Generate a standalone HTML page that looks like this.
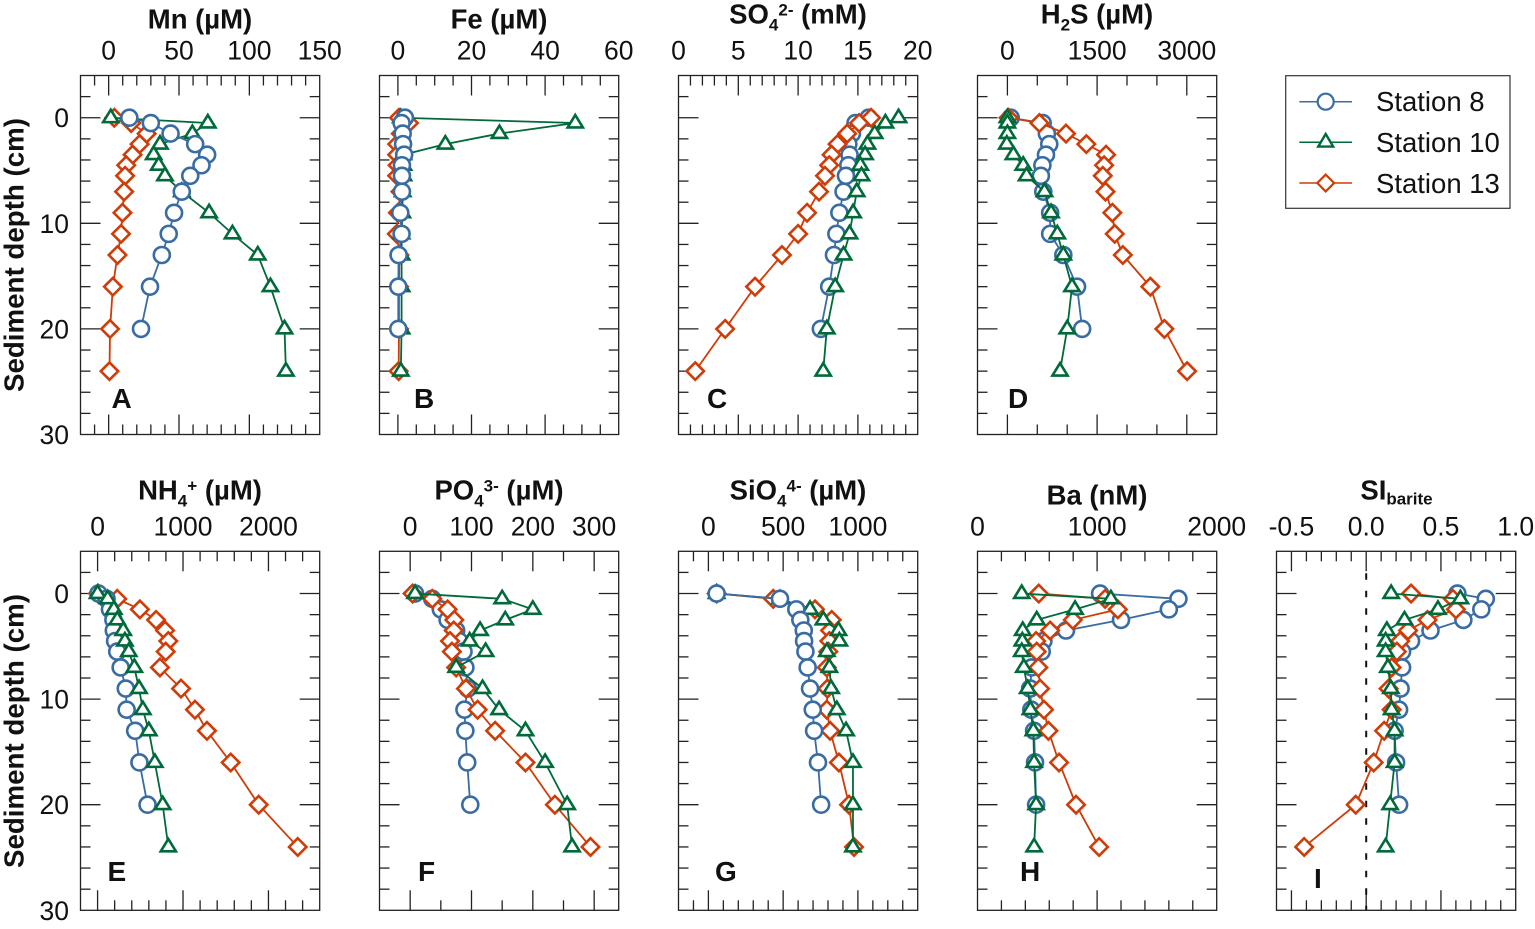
<!DOCTYPE html>
<html>
<head>
<meta charset="utf-8">
<title>Porewater profiles</title>
<style>
html,body{margin:0;padding:0;background:#fff;width:1535px;height:929px;overflow:hidden}
svg{display:block}
text{font-family:"Liberation Sans",Arial,sans-serif;fill:#111}
.tick{font-size:26.5px}
.title{font-size:27.5px;font-weight:bold;text-anchor:middle}
.letter{font-size:28px;font-weight:bold}
.ytitle{font-size:27.5px;font-weight:bold;text-anchor:middle}
.legend-text{font-size:27.5px}
</style>
</head>
<body>
<svg id="chart" xmlns="http://www.w3.org/2000/svg" width="1535" height="929" viewBox="0 0 1535 929">
  <rect x="0" y="0" width="1535" height="929" fill="#fff"/>

  <text class="title" x="200" y="28.5">Mn (µM)</text>
  <text class="title" x="499" y="28.5">Fe (µM)</text>
  <text class="title" x="798" y="23.5">SO<tspan font-size="17" dy="7">4</tspan><tspan font-size="17" dy="-15">2-</tspan><tspan dy="8"> (mM)</tspan></text>
  <text class="title" x="1097" y="23.5">H<tspan font-size="17" dy="7">2</tspan><tspan dy="-7">S (µM)</tspan></text>
  <text class="title" x="200" y="499.5">NH<tspan font-size="17" dy="7">4</tspan><tspan font-size="17" dy="-15">+</tspan><tspan dy="8"> (µM)</tspan></text>
  <text class="title" x="499" y="499.5">PO<tspan font-size="17" dy="7">4</tspan><tspan font-size="17" dy="-15">3-</tspan><tspan dy="8"> (µM)</tspan></text>
  <text class="title" x="798" y="499.5">SiO<tspan font-size="17" dy="7">4</tspan><tspan font-size="17" dy="-15">4-</tspan><tspan dy="8"> (µM)</tspan></text>
  <text class="title" x="1097" y="504.5">Ba (nM)</text>
  <text class="title" x="1396.5" y="499.5">SI<tspan font-size="17" dy="5">barite</tspan></text>

  <text class="ytitle" transform="translate(23.5,255) rotate(-90)" textLength="274" lengthAdjust="spacingAndGlyphs">Sediment depth (cm)</text>
  <text class="ytitle" transform="translate(23.5,731) rotate(-90)" textLength="274" lengthAdjust="spacingAndGlyphs">Sediment depth (cm)</text>

  <g id="panels"></g>

  <text class="letter" x="111.5" y="408">A</text>
  <text class="letter" x="414" y="408">B</text>
  <text class="letter" x="707" y="408">C</text>
  <text class="letter" x="1008" y="408">D</text>
  <text class="letter" x="107.5" y="881">E</text>
  <text class="letter" x="418" y="881">F</text>
  <text class="letter" x="715" y="881">G</text>
  <text class="letter" x="1020" y="881">H</text>
  <text class="letter" x="1314" y="888">I</text>

  <g>
    <rect x="1285.7" y="75.7" width="224.3" height="132.6" fill="#fff" stroke="#333" stroke-width="1.2"/>
    <g>
      <line x1="1299.3" x2="1352" y1="101.7" y2="101.7" stroke="#386ca3" stroke-width="1.5"/>
      <circle cx="1325.7" cy="101.7" r="8" fill="#fff" stroke="#386ca3" stroke-width="2.2"/>
      <text class="legend-text" x="1376" y="111">Station 8</text>
    </g>
    <g>
      <line x1="1299.3" x2="1352" y1="142.3" y2="142.3" stroke="#006a3a" stroke-width="1.5"/>
      <path d="M1325.7 134 L1333.2 146.6 L1318.2 146.6 Z" fill="#fff" stroke="#006a3a" stroke-width="2.4"/>
      <text class="legend-text" x="1376" y="152">Station 10</text>
    </g>
    <g>
      <line x1="1299.3" x2="1352" y1="183" y2="183" stroke="#cf3c07" stroke-width="1.5"/>
      <path d="M1325.7 174.6 L1334.1 183 L1325.7 191.4 L1317.3 183 Z" fill="#fff" stroke="#cf3c07" stroke-width="2.2"/>
      <text class="legend-text" x="1376" y="193">Station 13</text>
    </g>
  </g>
</svg>

<script>
// Sampling depths (cm)
const depths = [0, 0.5, 1.5, 2.5, 3.5, 4.5, 5.5, 7, 9, 11, 13, 16, 20, 24];
const yTickLabels = [0, 10, 20, 30];

// Mn (uM)
const mnStation8 = [14.7, 30, 44, 61.5, 70, 66, 58, 52, 46.5, 42.7, 37.8, 29.4, 23];
const mnStation10 = [1.5, 70.5, 59.5, 36.5, 32, 35.6, 40, 52, 71.4, 88, 106, 115, 125, 126];
const mnStation13 = [4, 16, 27, 22, 17, 12.5, 11.7, 11, 9.8, 8.8, 6.3, 3, 1, 0.6];
const mnTicks = [0, 50, 100, 150];

// Fe (uM)
const feStation8 = [1.9, 1, 1.3, 1.4, 1.7, 1.1, 1.1, 1.1, 0.65, 1, 0.2, 0.1, 0.1];
const feStation10 = [0.8, 48.2, 27.6, 12.9, 1.5, 1.5, 1.5, 1.3, 1.2, 1, 1, 1, 1, 0.8];
const feStation13 = [0.3, 3, 0.8, -0.2, -0.2, -0.1, -0.2, 0.7, 0, -0.3, 0.4, 0.3, 0.3, 0.2];
const feTicks = [0, 20, 40, 60];

// SO4 (mM)
const so4Station8 = [15.9, 14.8, 14.5, 14.2, 14.3, 14.2, 14, 13.8, 13.45, 13.2, 13, 12.6, 11.9];
const so4Station10 = [18.4, 17.3, 16.4, 15.8, 15.6, 15.2, 15.3, 14.9, 14.6, 14.3, 13.8, 13.1, 12.4, 12.1];
const so4Station13 = [16.1, 15.1, 14.1, 13.3, 12.8, 12.6, 12.25, 11.75, 10.75, 10, 8.65, 6.4, 3.9, 1.4];
const so4Ticks = [0, 5, 10, 15, 20];

// H2S (uM)
const h2sStation8 = [55, 590, 660, 700, 645, 585, 560, 600, 715, 715, 935, 1165, 1250];
const h2sStation10 = [0, 0, 0, -10, 100, 265, 320, 620, 730, 835, 935, 1080, 1000, 880];
const h2sStation13 = [20, 535, 980, 1320, 1650, 1617, 1595, 1640, 1755, 1795, 1930, 2390, 2625, 3005];
const h2sTicks = [0, 1500, 3000];

// NH4 (uM)
const nh4Station8 = [10, 105, 145, 185, 190, 205, 230, 270, 330, 340, 440, 490, 585];
const nh4Station10 = [0, 118, 190, 230, 300, 320, 365, 430, 485, 530, 600, 670, 762, 828];
const nh4Station13 = [5, 230, 495, 685, 790, 828, 797, 730, 977, 1140, 1280, 1558, 1886, 2343];
const nh4Ticks = [0, 1000, 2000];

// PO4 (uM)
const po4Station8 = [8, 36, 50, 61, 75, 80, 87, 90, 94, 88.5, 90, 93, 98];
const po4Station10 = [8, 150, 200, 155, 114, 97, 123, 75, 118, 145, 188, 220, 256, 264];
const po4Station13 = [4, 36, 61, 72, 71, 65, 68, 75, 91, 110, 138.5, 188, 236, 294];
const po4Ticks = [0, 100, 200, 300];

// SiO4 (uM)
const sio4Station8 = [55, 479, 588, 615, 638, 640, 649, 664, 680, 698, 707, 733, 754];
const sio4Station10 = [55, 479, 680, 769, 870, 876, 792, 809, 821, 859, 921, 967, 967, 967];
const sio4Station13 = [55, 434, 713, 825, 814, 809, 802, 792, 796, 792, 814, 873, 941, 974];
const sio4Ticks = [0, 500, 1000];

// Ba (nM)
const baStation8 = [1025, 1680, 1600, 1200, 740, 551, 537, 453, 440, 450, 473, 481, 490];
const baStation10 = [370, 1115, 816, 495, 378, 375, 370, 387, 420, 442, 467, 473, 490, 473];
const baStation13 = [512, 1067, 1173, 797, 607, 490, 495, 509, 523, 556, 593, 682, 824, 1017];
const baTicks = [0, 1000, 2000];

// SI barite
const siStation8 = [0.61, 0.80, 0.77, 0.65, 0.43, 0.30, 0.24, 0.24, 0.23, 0.22, 0.19, 0.20, 0.22];
const siStation10 = [0.167, 0.63, 0.48, 0.256, 0.138, 0.13, 0.13, 0.145, 0.165, 0.17, 0.19, 0.19, 0.16, 0.13];
const siStation13 = [0.30, 0.58, 0.60, 0.41, 0.28, 0.227, 0.205, 0.17, 0.15, 0.17, 0.12, 0.05, -0.07, -0.415];
const siTicks = ['-0.5', '0.0', '0.5', '1.0'];

const BLUE = '#386ca3', GREEN = '#006a3a', ORANGE = '#cf3c07';
const SVGNS = 'http://www.w3.org/2000/svg';
const DEPTH_MIN = -4, DEPTH_MAX = 30;
const PANEL_H = 359, PANEL_W = 239.2;

const panels = [
  {id:'mn',   left:80.5,   top:75.5,  xMin:-20,  xMax:150,  minor:10,  major:50,   labels:mnTicks,  s8:mnStation8,  s10:mnStation10,  s13:mnStation13,  order:['s13','s10','s8'], yLabels:true},
  {id:'fe',   left:379.5,  top:75.5,  xMin:-5,   xMax:60,   minor:5,   major:20,   labels:feTicks,  s8:feStation8,  s10:feStation10,  s13:feStation13,  order:['s13','s10','s8']},
  {id:'so4',  left:678.5,  top:75.5,  xMin:0,    xMax:20,   minor:1,   major:5,    labels:so4Ticks, s8:so4Station8, s10:so4Station10, s13:so4Station13, order:['s8','s10','s13']},
  {id:'h2s',  left:977.5,  top:75.5,  xMin:-500, xMax:3500, minor:500, major:1500, labels:h2sTicks, s8:h2sStation8, s10:h2sStation10, s13:h2sStation13, order:['s8','s13','s10']},
  {id:'nh4',  left:80.5,   top:551.3, xMin:-200, xMax:2600, minor:200, major:1000, labels:nh4Ticks, s8:nh4Station8, s10:nh4Station10, s13:nh4Station13, order:['s13','s8','s10'], yLabels:true},
  {id:'po4',  left:379.5,  top:551.3, xMin:-50,  xMax:340,  minor:50,  major:100,  labels:po4Ticks, s8:po4Station8, s10:po4Station10, s13:po4Station13, order:['s8','s13','s10']},
  {id:'sio4', left:678.5,  top:551.3, xMin:-200, xMax:1400, minor:100, major:500,  labels:sio4Ticks,s8:sio4Station8,s10:sio4Station10,s13:sio4Station13,order:['s13','s10','s8']},
  {id:'ba',   left:977.5,  top:551.3, xMin:0,    xMax:2000, minor:200, major:1000, labels:baTicks,  s8:baStation8,  s10:baStation10,  s13:baStation13,  order:['s8','s13','s10']},
  {id:'si',   left:1276.5, top:551.3, xMin:-0.6, xMax:1.0,  minor:0.1, major:0.5,  labels:siTicks,  s8:siStation8,  s10:siStation10,  s13:siStation13,  order:['s8','s13','s10'], zeroLine:true}
];

const seriesStyle = {
  s8:  {color:BLUE,   name:'station-8'},
  s10: {color:GREEN,  name:'station-10'},
  s13: {color:ORANGE, name:'station-13'}
};

function make(tag, parent){
  const el = document.createElementNS(SVGNS, tag);
  parent.appendChild(el);
  return el;
}

function drawTick(parent, x1, y1, x2, y2){
  const el = make('line', parent);
  
  
  el.setAttribute('x1', x1);
  el.setAttribute('y1', y1);
  el.setAttribute('x2', x2);
  el.setAttribute('y2', y2);
  el.setAttribute('stroke', '#222');
  el.setAttribute('stroke-width', '1.3');
}

function drawMarker(parent, key, cx, cy, color){
  let el;
  if (key === 's8') {
    el = make('circle', parent);
    el.setAttribute('cx', cx);
    el.setAttribute('cy', cy);
    el.setAttribute('r', '8');
  } else if (key === 's10') {
    el = make('path', parent);
    el.setAttribute('d', 'M' + cx + ' ' + (cy - 8) + ' L' + (cx + 7.6) + ' ' + (cy + 4.4) + ' L' + (cx - 7.6) + ' ' + (cy + 4.4) + ' Z');
  } else {
    el = make('path', parent);
    el.setAttribute('d', 'M' + cx + ' ' + (cy - 8.7) + ' L' + (cx + 8.7) + ' ' + cy + ' L' + cx + ' ' + (cy + 8.7) + ' L' + (cx - 8.7) + ' ' + cy + ' Z');
  }
  
  
  el.setAttribute('fill', '#fff');
  el.setAttribute('stroke', color);
  el.setAttribute('stroke-width', '2.6');
}

function isMultiple(v, step){
  const r = v / step;
  return Math.abs(r - Math.round(r)) < 1e-6;
}

const root = document.getElementById('panels');

panels.forEach(function(p){
  const xScale = function(v){ return p.left + (v - p.xMin) / (p.xMax - p.xMin) * PANEL_W; };
  const yScale = function(d){ return p.top + (d - DEPTH_MIN) / (DEPTH_MAX - DEPTH_MIN) * PANEL_H; };
  const bottom = p.top + PANEL_H, right = p.left + PANEL_W;

  const g = make('g', root);
  
  

  // x ticks (top and bottom)
  const nx = Math.round((p.xMax - p.xMin) / p.minor);
  for (let i = 1; i < nx; i++) {
    const v = p.xMin + i * p.minor;
    const major = isMultiple(v, p.major);
    const len = major ? 20 : 10;
    const x = xScale(v);
    drawTick(g, x, p.top, x, p.top + len);
    drawTick(g, x, bottom, x, bottom - len);
  }

  // y ticks (left and right)
  for (let d = DEPTH_MIN + 2; d < DEPTH_MAX; d += 2) {
    const len = (d % 10 === 0) ? 20 : 10;
    const y = yScale(d);
    drawTick(g, p.left, y, p.left + len, y);
    drawTick(g, right, y, right - len, y);
  }

  // x tick labels
  p.labels.forEach(function(lab){
    const t = make('text', g);
    
    
    t.setAttribute('class', 'tick');
    t.setAttribute('x', xScale(parseFloat(lab)));
    t.setAttribute('y', p.top - 16);
    t.setAttribute('text-anchor', 'middle');
    t.textContent = lab;
  });

  // y tick labels
  if (p.yLabels) {
    yTickLabels.forEach(function(lab){
      const t = make('text', g);
      
      
      t.setAttribute('class', 'tick');
      t.setAttribute('x', 69);
      t.setAttribute('y', yScale(lab) + 9.5);
      t.setAttribute('text-anchor', 'end');
      t.textContent = lab;
    });
  }

  // saturation line
  if (p.zeroLine) {
    const z = make('line', g);
    
    
    z.setAttribute('x1', xScale(0));
    z.setAttribute('x2', xScale(0));
    z.setAttribute('y1', p.top + 22);
    z.setAttribute('y2', bottom);
    z.setAttribute('stroke', '#111');
    z.setAttribute('stroke-width', '2');
    z.setAttribute('stroke-dasharray', '6.5 11');
  }

  // series
  p.order.forEach(function(key){
    const values = p[key];
    const style = seriesStyle[key];
    const sg = make('g', g);
    
    

    const line = make('polyline', sg);
    
    
    line.setAttribute('fill', 'none');
    line.setAttribute('stroke', style.color);
    line.setAttribute('stroke-width', '1.8');
    line.setAttribute('points', values.map(function(v, i){
      return xScale(v).toFixed(2) + ',' + yScale(depths[i]).toFixed(2);
    }).join(' '));

    values.forEach(function(v, i){
      drawMarker(sg, key, xScale(v), yScale(depths[i]), style.color);
    });
  });

  // frame
  const frame = make('rect', g);
  
  
  frame.setAttribute('x', p.left);
  frame.setAttribute('y', p.top);
  frame.setAttribute('width', PANEL_W);
  frame.setAttribute('height', PANEL_H);
  frame.setAttribute('fill', 'none');
  frame.setAttribute('stroke', '#222');
  frame.setAttribute('stroke-width', '1.3');
});
</script>
</body>
</html>
